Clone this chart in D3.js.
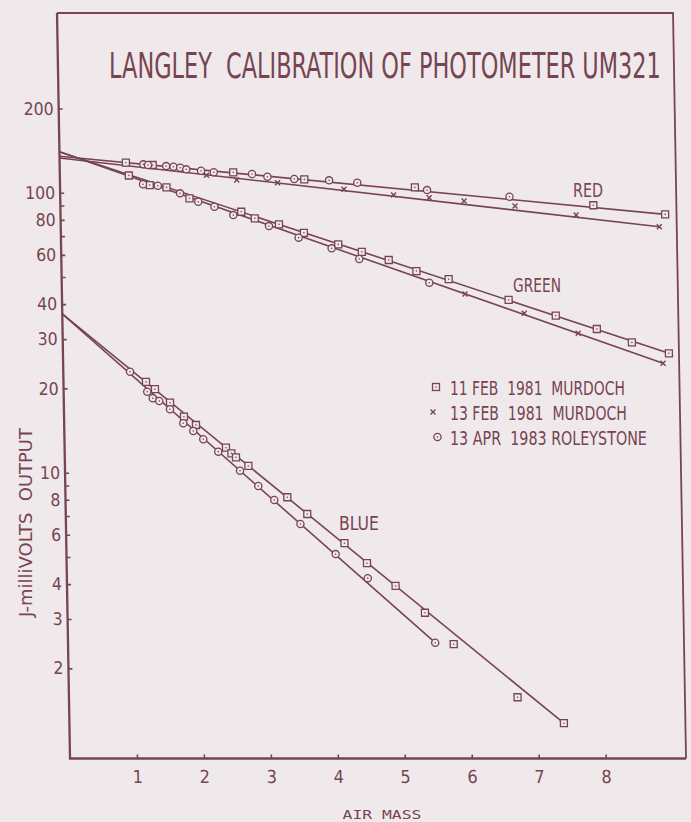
<!DOCTYPE html>
<html><head><meta charset="utf-8">
<script src="https://cdn.jsdelivr.net/npm/d3@7/dist/d3.min.js"></script>
<style>
html,body{margin:0;padding:0;background:#efe9ec;}
svg{display:block;}
</style>
</head><body>
<svg id="chart" width="691" height="822"></svg>
<script>
// ---------------- DATA ----------------
const titleText = "LANGLEY  CALIBRATION OF PHOTOMETER UM321";
const xTickValues = [1, 2, 3, 4, 5, 6, 7, 8];
const yTickLabeled = [200, 100, 80, 60, 40, 30, 20, 10, 8, 6, 4, 3, 2];
const yTickMinor = [90, 70, 50, 9, 7, 5];
const xAxisTitle = "AIR MASS";
const yAxisTitle = "J-milliVOLTS  OUTPUT";

// RED  (air mass, mV)
const red11Feb = [[0.99,128],[1.39,125.6],[2.59,118.3],[3.65,111.6],[5.30,104.5],[7.96,90.2],[9.03,83.7]];
const red13Apr = [[1.25,126.3],[1.32,125.6],[1.59,124.5],[1.70,123.8],[1.80,122.8],[1.89,121.2],[2.11,119.8],[2.30,118.3],[2.87,116.6],[3.10,114.0],[3.50,111.9],[4.02,110.7],[4.44,108.6],[5.48,102.2],[6.71,96.8]];
const red13Feb = [[2.19,115.4],[2.64,111.0],[3.25,108.6],[4.24,102.8],[4.98,98.1],[5.51,96.0],[6.03,93.4],[6.79,89.6],[7.70,83.2],[8.94,75.6]];
const redFitA = [[0,135],[9.03,83.7]];
const redFitB = [[0,133],[8.94,75.6]];

// GREEN
const green11Feb = [[1.03,115.2],[1.34,106.5],[1.59,104.5],[1.93,95.5],[2.70,85.5],[2.90,81.0],[3.26,77.1],[3.63,71.9],[4.14,65.4],[4.49,61.5],[4.89,57.5],[5.30,52.5],[5.78,49.1],[6.67,41.4],[7.37,36.4],[7.98,32.6],[8.50,29.2],[9.05,26.7]];
const green13Feb = [[6.02,43.5],[6.90,37.1],[7.70,31.5],[8.96,24.6]];
const green13Apr = [[1.24,107.2],[1.46,105.9],[1.79,99.5],[2.06,92.9],[2.30,89.1],[2.58,83.2],[3.11,76.0],[3.55,69.1],[4.04,63.3],[4.45,58.0],[5.49,47.7]];
const greenFitA = [[0,140.1],[9.05,26.7]];
const greenFitB = [[0,140.1],[8.96,24.6]];

// BLUE
const blue11Feb = [[1.233,21.1],[1.365,19.87],[1.586,17.78],[1.791,15.85],[1.968,14.80],[2.41,12.28],[2.49,11.73],[2.557,11.35],[2.74,10.57],[3.313,8.17],[3.607,7.12],[4.155,5.60],[4.486,4.75],[4.907,3.94],[5.339,3.16],[5.76,2.44],[6.70,1.577],[7.385,1.274]];
const blue13Apr = [[0.997,22.95],[1.249,19.47],[1.329,18.44],[1.426,18.04],[1.584,16.84],[1.779,15.01],[1.926,14.09],[2.073,13.16],[2.294,11.89],[2.614,10.16],[2.883,8.96],[3.118,7.99],[3.502,6.56],[4.021,5.12],[4.494,4.20],[5.484,2.47]];
const blueFitA = [[0,36.9],[7.385,1.274]];
const blueFitB = [[0,36.9],[5.484,2.47]];

const legendLabels = ["11 FEB  1981  MURDOCH", "13 FEB  1981  MURDOCH", "13 APR  1983 ROLEYSTONE"];
const legendMarks = ["square", "cross", "circle"];
const colorLabels = ["RED", "GREEN", "BLUE"];

// ---------------- DRAW ----------------
const INK = "#774450";
const BG = "#efe9ec";
const FONT = "'Liberation Sans Narrow','DejaVu Sans Condensed','Liberation Sans',sans-serif";
const svg = d3.select("#chart");

const x = d3.scaleLinear().domain([0, 9.2]).range([70, 686]);
const y = d3.scaleLog().domain([0.953, 438.5]).range([758.5, 13]);

// place a text so that it spans a given width (horizontal scale only)
function fitText(parent, str, px, py, width, size, family, anchor, extra) {
  const t = parent.append("text").attr("x", 0).attr("y", 0)
    .attr("font-family", family || FONT).attr("font-size", size).attr("fill", INK)
    .attr("text-anchor", anchor || "start").style("white-space", "pre").text(str);
  const L = t.node().getComputedTextLength();
  const s = width / L;
  t.attr("transform", `translate(${px},${py})${extra || ""} scale(${s},1)`);
  return t;
}

// slight shear of the scanned original
const K = 0.01745, Y0 = 757;
const g = svg.append("g").attr("transform", `matrix(1,0,${K},1,${-K*Y0},0)`);

// frame
const [x0, x1] = x.range();
const [yb, yt] = y.range();
g.append("path").attr("d", `M${x0},${yt}H${x1}V${yb}`)
  .attr("fill", "none").attr("stroke", INK).attr("stroke-width", 1.8);
g.append("path").attr("d", `M${x0},${yt}V${yb}H${x1}`)
  .attr("fill", "none").attr("stroke", INK).attr("stroke-width", 2.3);

// y axis
const yAx = d3.axisLeft(y)
  .tickValues(yTickLabeled.concat(yTickMinor))
  .tickSizeInner(-4).tickSizeOuter(0).tickPadding(5)
  .tickFormat(d => yTickLabeled.includes(d) ? String(d) : "");
const gy = g.append("g").attr("transform", `translate(${x0},0)`).call(yAx);
gy.select(".domain").remove();
gy.selectAll("line").attr("stroke", INK).attr("stroke-width", 1.6);
gy.selectAll("text").attr("fill", INK).attr("font-family", FONT).attr("font-size", 17.5);

// x axis
const xAx = d3.axisBottom(x).tickValues(xTickValues)
  .tickSizeInner(-4).tickSizeOuter(0).tickPadding(12).tickFormat(d3.format("d"));
const gx = g.append("g").attr("transform", `translate(0,${yb})`).call(xAx);
gx.select(".domain").remove();
gx.selectAll("line").attr("stroke", INK).attr("stroke-width", 1.6);
gx.selectAll("text").attr("fill", INK).attr("font-family", FONT).attr("font-size", 18);

// fit lines
const line = d3.line().x(d => x(d[0])).y(d => y(d[1]));
[redFitA, redFitB, greenFitA, greenFitB, blueFitA, blueFitB].forEach(f => {
  g.append("path").attr("d", line(f)).attr("fill", "none")
    .attr("stroke", INK).attr("stroke-width", 1.6);
});

// markers
function drawMark(sel, type, cx, cy) {
  if (type === "square") {
    sel.append("rect").attr("x", cx - 3.5).attr("y", cy - 3.5).attr("width", 7).attr("height", 7)
      .attr("fill", BG).attr("stroke", INK).attr("stroke-width", 1.3);
    sel.append("circle").attr("cx", cx).attr("cy", cy).attr("r", 0.8).attr("fill", INK);
  } else if (type === "circle") {
    sel.append("circle").attr("cx", cx).attr("cy", cy).attr("r", 3.6)
      .attr("fill", BG).attr("stroke", INK).attr("stroke-width", 1.3);
    sel.append("circle").attr("cx", cx).attr("cy", cy).attr("r", 0.8).attr("fill", INK);
  } else {
    sel.append("path").attr("d", `M${cx-2.5},${cy-2.5}L${cx+2.5},${cy+2.5}M${cx-2.5},${cy+2.5}L${cx+2.5},${cy-2.5}`)
      .attr("stroke", INK).attr("stroke-width", 1.4);
  }
}
const groups = [
  [red11Feb, "square"], [red13Apr, "circle"], [red13Feb, "cross"],
  [green11Feb, "square"], [green13Apr, "circle"], [green13Feb, "cross"],
  [blue11Feb, "square"], [blue13Apr, "circle"]
];
groups.forEach(([data, type]) => {
  const gg = g.append("g");
  data.forEach(d => drawMark(gg, type, x(d[0]), y(d[1])));
});

// title
fitText(svg, titleText, 109, 78, 552, 36);

// axis titles
fitText(svg, xAxisTitle, 382, 819, 79, 13, "'DejaVu Sans Mono','Liberation Mono',monospace", "middle");
fitText(svg, yAxisTitle, 32, 522.5, 189, 17, FONT, "middle", " rotate(-90)");

// colour labels
const colorPos = [[573, 197, 30], [513, 292, 48], [339, 530, 40]];
colorLabels.forEach((t, i) => fitText(svg, t, colorPos[i][0], colorPos[i][1], colorPos[i][2], 19));

// legend
const legRows = [395, 420, 445];
const legMarkX = [436, 433, 437.5];
const legW = [175, 177, 197];
legendLabels.forEach((t, i) => {
  drawMark(svg, legendMarks[i], legMarkX[i], legRows[i] - 8);
  fitText(svg, t, 450, legRows[i], legW[i], 19);
});
</script>
</body></html>
